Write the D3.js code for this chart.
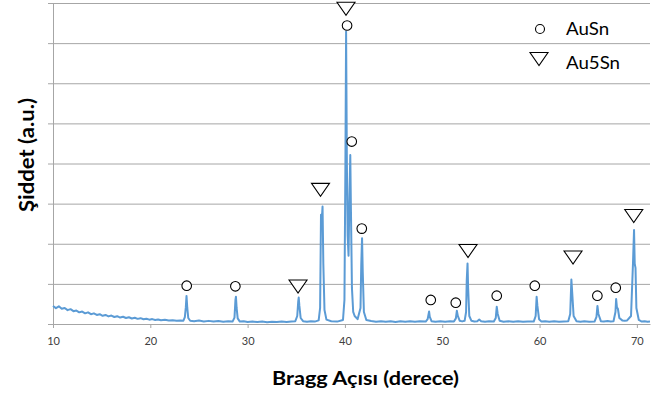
<!DOCTYPE html>
<html lang="tr">
<head>
<meta charset="UTF-8">
<title>XRD</title>
<script src="https://d3js.org/d3.v7.min.js"></script>
<style>
    body { margin: 0; background: #fff; }
    text { font-family: Lato, "Open Sans", sans-serif; }
    .grid line { stroke: #a6a6a6; stroke-width: 1; }
    .grid path { display: none; }
    .axis path, .axis line { stroke: #a6a6a6; }
    .axis text { fill: #404040; font-size: 11px; }
</style>
</head>
<body>
<svg id="chart" width="653" height="399"></svg>
<script>
// spectrum (2theta in degrees, intensity in a.u.)
// one row per stretch of the pattern; rows of both arrays line up
let twoTheta = [
    10, 10.3, 10.6, 10.9, 11.2, 11.5, 11.8, 12.1, 12.4, 12.7, 13, 13.3, 13.6, 13.9, 14.2, 14.5, 14.8, 15.1, 15.4, 15.7,
    16, 16.3, 16.6, 16.9, 17.2, 17.5, 17.8, 18.1, 18.4, 18.7, 19, 19.3, 19.6, 19.9, 20.2, 20.5, 20.8, 21.1, 21.5, 21.9,
    22.3, 22.7, 23.1, 23.4,
    23.55, 23.65, 23.72, 23.8, 23.9, 24.1, 24.5, 25, 25.5, 26, 26.5, 27, 27.5, 28, 28.45,
    28.65, 28.75, 28.8, 28.87, 28.98, 29.2, 29.6, 30, 30.5, 31, 31.5, 32, 32.5, 33, 33.5, 34, 34.5, 34.9,
    35.1, 35.2, 35.25, 35.32, 35.45, 35.7, 36.1, 36.5, 36.9, 37.3,
    37.45, 37.54, 37.6, 37.7, 37.78, 37.9, 38.1, 38.6, 39.2, 39.8,
    39.95, 40.05, 40.12, 40.2, 40.28, 40.37, 40.45, 40.55, 40.62, 40.72, 40.85, 41.0, 41.3,
    41.6, 41.68, 41.76, 41.83, 41.95, 42.2, 42.7, 43.2, 43.7, 44.2, 44.7, 45.2, 45.7, 46.2, 46.7, 47.2, 47.7, 48.3,
    48.5, 48.65, 48.72, 48.9, 49.3, 49.8, 50.3, 50.8, 51.2,
    51.4, 51.5, 51.6, 51.8, 52.05, 52.3,
    52.45, 52.52, 52.6, 52.66, 52.78, 53.0, 53.3, 53.6, 53.8, 54.0, 54.4, 54.8, 55.3,
    55.5, 55.6, 55.7, 55.9, 56.3, 56.8, 57.3, 57.8, 58.3, 58.8, 59.4,
    59.6, 59.7, 59.78, 59.95, 60.2, 60.6, 61, 61.5, 62, 62.5, 62.95,
    63.15, 63.27, 63.35, 63.5, 63.8, 64.2, 64.6, 65.1, 65.65,
    65.85, 65.95, 66.05, 66.3, 66.6, 67, 67.3, 67.6,
    67.8, 67.87, 67.95, 68.05, 68.2, 68.5, 68.75, 69.0, 69.4,
    69.6, 69.71, 69.78, 69.86, 69.95, 70.2, 70.5, 70.8, 71.1, 71.35
];
let intensity = [
    450, 395, 440, 380, 400, 345, 370, 320, 335, 290, 310, 265, 290, 245, 265, 225, 245, 205, 225, 190,
    210, 175, 195, 160, 180, 150, 168, 138, 155, 128, 145, 118, 132, 108, 122, 100, 112, 92, 104, 86,
    96, 80, 90, 82,
    170, 420, 700, 400, 150, 80, 70, 85, 65, 78, 60, 72, 58, 68, 60,
    160, 600, 680, 400, 140, 60, 68, 50, 62, 48, 60, 46, 58, 50, 62, 52, 64, 70,
    200, 560, 660, 450, 150, 70, 58, 66, 60, 90,
    400, 2720, 2500, 2930, 1500, 350, 110, 70, 60, 100,
    600, 4000, 7290, 4000, 2200, 1700, 3000, 4210, 2800, 900, 300, 200, 120,
    400, 1500, 2140, 1300, 300, 100, 75, 58, 70, 55, 68, 52, 66, 54, 68, 55, 67, 60,
    120, 310, 180, 70, 58, 68, 54, 66, 60,
    140, 330, 200, 80, 65, 80,
    300, 1100, 1510, 900, 200, 80, 62, 70, 110, 70, 58, 66, 60,
    150, 430, 250, 80, 58, 68, 54, 66, 56, 64, 60,
    200, 680, 450, 120, 60, 68, 55, 66, 56, 64, 70,
    250, 1110, 800, 200, 70, 58, 68, 56, 60,
    180, 450, 250, 70, 62, 72, 64, 70,
    300, 620, 420, 380, 150, 90, 80, 90, 200,
    1500, 2340, 1500, 1400, 400, 100, 62, 70, 58, 64
];

// peak markers
let auSnX = [23.74, 28.74, 40.22, 40.70, 41.73, 48.82, 51.39, 55.60, 59.51, 65.94, 67.83];
let auSnY = [955, 940, 7439, 4546, 2377, 599, 531, 706, 955, 706, 905];
let au5SnX = [35.18, 37.49, 40.11, 52.65, 63.44, 69.68];
let au5SnY = [935, 3342, 7855, 1820, 1658, 2693];

let xTicks = [10, 20, 30, 40, 50, 60, 70];
let yTicks = [0, 1000, 2000, 3000, 4000, 5000, 6000, 7000, 8000];
let legendLabels = ["AuSn", "Au5Sn"];

let svg = d3.select("#chart");
let mLeft = 53, mRight = 650, mTop = 3, mBottom = 324;

let x = d3.scaleLinear().domain([10, 71.35]).range([mLeft, mRight]);
let y = d3.scaleLinear().domain([0, 8000]).range([mBottom, mTop]);

// grid
svg.append("g")
    .attr("class", "grid")
    .attr("transform", "translate(" + mLeft + ",0)")
    .call(d3.axisLeft(y).tickValues(yTicks.slice(1)).tickSize(-(mRight - mLeft)).tickFormat(""));

// y axis (no labels)
svg.append("g")
    .attr("class", "axis")
    .attr("transform", "translate(" + mLeft + ",0)")
    .call(d3.axisLeft(y).tickValues(yTicks).tickSize(5).tickSizeOuter(0).tickFormat(""));

// x axis
svg.append("g")
    .attr("class", "axis")
    .attr("transform", "translate(0," + mBottom + ")")
    .call(d3.axisBottom(x).tickValues(xTicks).tickSize(4).tickSizeOuter(0).tickPadding(9));

// spectrum
let pts = d3.zip(twoTheta, intensity);
svg.append("path")
    .datum(pts)
    .attr("fill", "none")
    .attr("stroke", "#5b9bd5")
    .attr("stroke-width", 2)
    .attr("stroke-linejoin", "round")
    .attr("d", d3.line().x(d => x(d[0])).y(d => y(d[1])));

// markers
let tri = "M-9,-6.5L9,-6.5L0,6.5Z";
svg.selectAll(".c")
    .data(d3.zip(auSnX, auSnY))
    .join("circle")
    .attr("cx", d => x(d[0]))
    .attr("cy", d => y(d[1]))
    .attr("r", 4.8)
    .attr("fill", "#fff")
    .attr("stroke", "#000")
    .attr("stroke-width", 1.1);
svg.selectAll(".t")
    .data(d3.zip(au5SnX, au5SnY))
    .join("path")
    .attr("d", tri)
    .attr("transform", d => "translate(" + x(d[0]) + "," + y(d[1]) + ")")
    .attr("fill", "#fff")
    .attr("stroke", "#000")
    .attr("stroke-width", 1.1);

// legend
let lg = svg.append("g");
lg.append("circle").attr("cx", 540).attr("cy", 29).attr("r", 4.5)
    .attr("fill", "#fff").attr("stroke", "#000").attr("stroke-width", 1.1);
lg.append("path").attr("d", tri).attr("transform", "translate(539,59)")
    .attr("fill", "#fff").attr("stroke", "#000").attr("stroke-width", 1.1);
lg.selectAll("text")
    .data(legendLabels)
    .join("text")
    .attr("transform", (d, i) => "translate(566," + (35 + i * 34) + ") scale(1.1,1)")
    .attr("font-size", "17px")
    .attr("fill", "#000")
    .text(d => d);

// axis titles (the original is a bit stretched sideways)
svg.append("text")
    .attr("x", 272)
    .attr("y", 385)
    .attr("font-size", "18px")
    .attr("font-weight", "bold")
    .attr("textLength", 187)
    .attr("lengthAdjust", "spacingAndGlyphs")
    .text("Bragg Açısı (derece)");
svg.append("text")
    .attr("transform", "translate(34,212) rotate(-90)")
    .attr("font-size", "21px")
    .attr("font-weight", "bold")
    .attr("textLength", 114)
    .attr("lengthAdjust", "spacingAndGlyphs")
    .text("Şiddet (a.u.)");
</script>
</body>
</html>
